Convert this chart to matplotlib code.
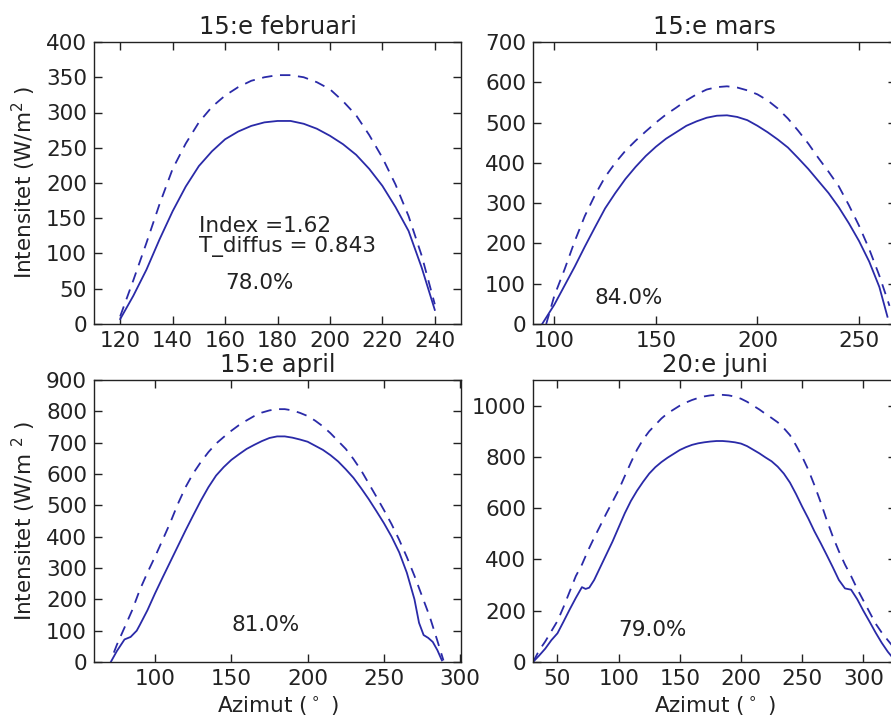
import matplotlib
matplotlib.use('Agg')
import matplotlib.pyplot as plt

plt.rcParams['font.family'] = ['DejaVu Sans']
plt.rcParams['mathtext.fontset'] = 'dejavusans'
plt.rcParams['lines.scale_dashes'] = False

# ---------------- data ----------------
titles = ['15:e februari', '15:e mars', '15:e april', '20:e juni']
percent_labels = ['78.0%', '84.0%', '81.0%', '79.0%']

# 15:e februari
feb_az = [120, 125, 130, 135, 140, 145, 150, 155, 160, 165, 170, 175, 180,
          185, 190, 195, 200, 205, 210, 215, 220, 225, 230, 235, 240]
feb_meas = [7, 40, 77, 120, 160, 195, 224, 245, 262, 273, 281, 286, 288,
            288, 284, 277, 267, 255, 240, 220, 196, 166, 132, 80, 20]
feb_clear = [11, 62, 115, 170, 220, 256, 286, 308, 324, 336, 345, 350, 353,
             353, 350, 343, 333, 316, 296, 268, 236, 198, 153, 97, 28]

# 15:e mars
mar_az_meas = [94, 100, 105, 110, 115, 120, 125, 130, 135, 140, 145, 150, 155,
               160, 165, 170, 175, 180, 185, 190, 195, 200, 205, 210, 215, 220,
               225, 230, 235, 240, 245, 250, 255, 260, 264]
mar_meas = [0, 48, 95, 142, 192, 240, 287, 325, 360, 390, 417, 440, 460,
            476, 492, 503, 512, 517, 518, 514, 506, 492, 476, 458, 438, 412,
            385, 355, 325, 290, 250, 206, 155, 92, 18]
mar_az_clear = [96, 100, 105, 110, 115, 120, 125, 130, 135, 140, 145, 150, 155,
                160, 165, 170, 175, 180, 185, 190, 195, 200, 205, 210, 215, 220,
                225, 230, 235, 240, 245, 250, 255, 260, 265]
mar_clear = [0, 70, 135, 205, 268, 320, 365, 400, 430, 455, 478, 500, 520,
             537, 555, 570, 582, 588, 590, 587, 580, 570, 555, 535, 510, 480,
             448, 412, 378, 342, 295, 244, 186, 120, 45]

# 15:e april
apr_az_meas = [71, 75, 80, 84, 88, 90, 95, 100, 105, 110, 115, 120, 125, 130,
               135, 140, 145, 150, 155, 160, 165, 170, 175, 180, 185, 190, 195,
               200, 205, 210, 215, 220, 225, 230, 235, 240, 245, 250, 255, 260,
               265, 270, 273, 276, 279, 282, 285, 288]
apr_meas = [0, 35, 72, 80, 100, 118, 165, 219, 270, 320, 370, 420, 468, 515,
            558, 595, 622, 645, 663, 680, 693, 705, 715, 720, 720, 716, 710,
            703, 690, 677, 660, 640, 615, 588, 555, 520, 482, 443, 400, 350,
            285, 200, 125, 86, 77, 64, 38, 5]
apr_az_clear = [73, 75, 80, 85, 90, 95, 100, 105, 110, 115, 120, 125, 130, 135,
                140, 145, 150, 155, 160, 165, 170, 175, 180, 185, 190, 195, 200,
                205, 210, 215, 220, 225, 230, 235, 240, 245, 250, 255, 260, 265,
                270, 275, 280, 285, 289]
apr_clear = [30, 55, 110, 165, 230, 285, 336, 390, 445, 505, 558, 602, 638,
             670, 697, 718, 738, 756, 771, 785, 796, 803, 807, 807, 803, 795,
             785, 770, 752, 730, 705, 680, 648, 612, 570, 528, 485, 440, 390,
             335, 275, 210, 145, 68, 5]

# 20:e juni
jun_az_meas = [30, 35, 40, 45, 50, 55, 60, 65, 70, 73, 76, 80, 85, 90, 95,
               100, 105, 110, 115, 120, 125, 130, 135, 140, 145, 150, 155, 160,
               165, 170, 175, 180, 185, 190, 195, 200, 205, 210, 215, 220, 225,
               230, 235, 240, 245, 250, 255, 260, 265, 270, 275, 280, 285, 290,
               295, 300, 305, 310, 315, 320, 326]
jun_meas = [0, 25, 52, 85, 112, 158, 205, 250, 292, 285, 290, 320, 370, 420,
            470, 525, 580, 628, 668, 703, 735, 760, 780, 797, 812, 827, 838,
            847, 853, 857, 860, 862, 862, 860, 857, 852, 842, 828, 814, 798,
            783, 762, 735, 700, 655, 606, 560, 510, 465, 418, 370, 320, 287,
            282, 245, 200, 158, 115, 75, 40, 5]
jun_az_clear = [30, 35, 40, 45, 50, 55, 60, 65, 70, 75, 80, 85, 90, 95, 100,
                105, 110, 115, 120, 125, 130, 135, 140, 145, 150, 155, 160, 165,
                170, 175, 180, 185, 190, 195, 200, 205, 210, 215, 220, 225, 230,
                235, 240, 245, 250, 255, 260, 265, 270, 275, 280, 285, 290, 295,
                300, 305, 310, 315, 320, 326]
jun_clear = [0, 45, 80, 120, 160, 215, 275, 335, 380, 435, 485, 532, 580, 625,
             671, 725, 778, 828, 868, 900, 925, 950, 970, 985, 1000, 1012, 1022,
             1030, 1036, 1040, 1042, 1042, 1040, 1035, 1027, 1015, 1000, 985,
             968, 952, 935, 912, 885, 845, 801, 750, 690, 625, 555, 490, 432,
             380, 335, 285, 240, 195, 150, 115, 85, 50]

xlims = [(110, 250), (89.5, 268.2), (60, 300.5), (30, 326.7)]
ylims = [(0, 400), (0, 700), (0, 900), (0, 1100)]
xticks = [[120, 140, 160, 180, 200, 220, 240], [100, 150, 200, 250],
          [100, 150, 200, 250, 300], [50, 100, 150, 200, 250, 300]]
yticks = [list(range(0, 401, 50)), list(range(0, 701, 100)),
          list(range(0, 901, 100)), list(range(0, 1001, 200))]
pct_pos = [(160, 50), (120, 50), (150, 100), (100, 100)]

meas = [(feb_az, feb_meas), (mar_az_meas, mar_meas),
        (apr_az_meas, apr_meas), (jun_az_meas, jun_meas)]
clear = [(feb_az, feb_clear), (mar_az_clear, mar_clear),
         (apr_az_clear, apr_clear), (jun_az_clear, jun_clear)]

# ---------------- figure ----------------
FW, FH = 891, 720
fig = plt.figure(figsize=(FW / 100, FH / 100), dpi=100)
fig.patch.set_facecolor('white')

hL = 282 / FH
positions = [
    (94 / FW, 1 - 324 / FH, 367 / FW, hL),
    (533 / FW, 1 - 324 / FH, 363 / FW, hL),
    (94 / FW, 1 - 662 / FH, 367 / FW, hL),
    (533 / FW, 1 - 662 / FH, 363 / FW, hL),
]

line_color = '#2a2aa8'
FS = 15.5

for i in range(4):
    ax = fig.add_axes(positions[i])
    x, y = meas[i]
    ax.plot(x, y, color=line_color, lw=1.3, ls='-')
    xc, yc = clear[i]
    ax.plot(xc, yc, color=line_color, lw=1.3, ls='--', dashes=[7.5, 5.5])
    ax.set_xlim(*xlims[i])
    ax.set_ylim(*ylims[i])
    ax.set_xticks(xticks[i])
    ax.set_yticks(yticks[i])
    ax.tick_params(direction='in', top=True, right=True, length=6, width=1,
                   labelsize=FS, pad=5, colors='#222222')
    for s in ax.spines.values():
        s.set_linewidth(1.0)
        s.set_color('#222222')
    ax.set_title(titles[i], fontsize=17.5, pad=6, color='#222222')
    ax.text(pct_pos[i][0], pct_pos[i][1], percent_labels[i], fontsize=FS,
            va='baseline', ha='left', color='#222222')
    if i == 0:
        ax.set_ylabel('Intensitet (W/m$^2$ )', fontsize=FS, labelpad=6,
                      color='#222222')
        ax.text(150, 130, 'Index =1.62', fontsize=FS, va='baseline',
                color='#222222')
        ax.text(150, 102, 'T_diffus = 0.843', fontsize=FS, va='baseline',
                color='#222222')
    if i == 2:
        ax.set_ylabel('Intensitet (W/m $^2$ )', fontsize=FS, labelpad=6,
                      color='#222222')
    if i >= 2:
        ax.set_xlabel('Azimut ($^\\circ$ )', fontsize=FS, labelpad=4,
                      color='#222222')

fig.savefig('out.png', dpi=100, facecolor='white')
